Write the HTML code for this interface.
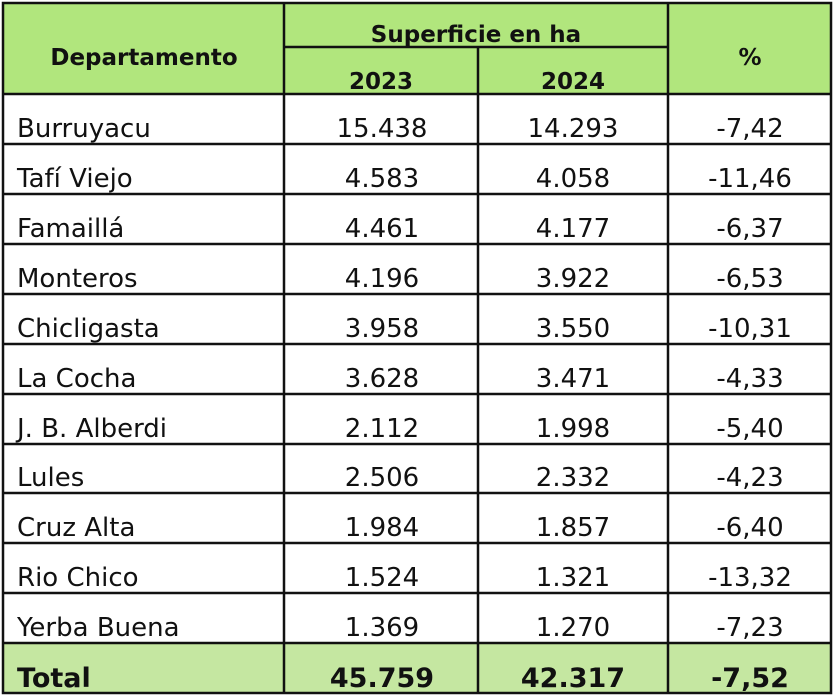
<!DOCTYPE html>
<html><head><meta charset="utf-8"><style>
html,body{margin:0;padding:0;background:#fff;width:835px;height:698px;overflow:hidden}
svg text{font-family:"DejaVu Sans","Liberation Sans",sans-serif}
</style></head><body>
<svg width="835" height="698" xmlns="http://www.w3.org/2000/svg">
<rect x="2" y="2" width="829" height="92" fill="#b1e67d"/>
<rect x="2" y="643" width="829" height="50" fill="#c5e7a1"/>
<g stroke="#111" stroke-width="2.5" fill="none">
<rect x="3" y="3" width="828" height="690"/>
<line x1="284" y1="3" x2="284" y2="693"/>
<line x1="478" y1="47" x2="478" y2="693"/>
<line x1="668" y1="3" x2="668" y2="693"/>
<line x1="284" y1="47" x2="668" y2="47"/>
<line x1="3" y1="94" x2="831" y2="94"/>
<line x1="3" y1="144" x2="831" y2="144"/>
<line x1="3" y1="194" x2="831" y2="194"/>
<line x1="3" y1="244" x2="831" y2="244"/>
<line x1="3" y1="294" x2="831" y2="294"/>
<line x1="3" y1="344" x2="831" y2="344"/>
<line x1="3" y1="394" x2="831" y2="394"/>
<line x1="3" y1="444" x2="831" y2="444"/>
<line x1="3" y1="493" x2="831" y2="493"/>
<line x1="3" y1="543" x2="831" y2="543"/>
<line x1="3" y1="593" x2="831" y2="593"/>
<line x1="3" y1="643" x2="831" y2="643"/>
</g>
<g font-weight="bold" font-size="23" fill="#111" text-anchor="middle">
<text x="144" y="65">Departamento</text>
<text x="476" y="42">Superficie en ha</text>
<text x="381" y="89">2023</text>
<text x="573" y="89">2024</text>
<text x="750" y="65">%</text>
</g>
<g font-size="26" fill="#111">
<g>
<text x="17" y="137">Burruyacu</text>
<text x="17" y="187">Tafí Viejo</text>
<text x="17" y="237">Famaillá</text>
<text x="17" y="287">Monteros</text>
<text x="17" y="337">Chicligasta</text>
<text x="17" y="387">La Cocha</text>
<text x="17" y="437">J. B. Alberdi</text>
<text x="17" y="486">Lules</text>
<text x="17" y="536">Cruz Alta</text>
<text x="17" y="586">Rio Chico</text>
<text x="17" y="636">Yerba Buena</text>
</g>
<g text-anchor="middle">
<text x="382" y="137">15.438</text><text x="573" y="137">14.293</text><text x="750" y="137">-7,42</text>
<text x="382" y="187">4.583</text><text x="573" y="187">4.058</text><text x="750" y="187">-11,46</text>
<text x="382" y="237">4.461</text><text x="573" y="237">4.177</text><text x="750" y="237">-6,37</text>
<text x="382" y="287">4.196</text><text x="573" y="287">3.922</text><text x="750" y="287">-6,53</text>
<text x="382" y="337">3.958</text><text x="573" y="337">3.550</text><text x="750" y="337">-10,31</text>
<text x="382" y="387">3.628</text><text x="573" y="387">3.471</text><text x="750" y="387">-4,33</text>
<text x="382" y="437">2.112</text><text x="573" y="437">1.998</text><text x="750" y="437">-5,40</text>
<text x="382" y="486">2.506</text><text x="573" y="486">2.332</text><text x="750" y="486">-4,23</text>
<text x="382" y="536">1.984</text><text x="573" y="536">1.857</text><text x="750" y="536">-6,40</text>
<text x="382" y="586">1.524</text><text x="573" y="586">1.321</text><text x="750" y="586">-13,32</text>
<text x="382" y="636">1.369</text><text x="573" y="636">1.270</text><text x="750" y="636">-7,23</text>
</g>
<g font-weight="bold" font-size="27">
<text x="17" y="687">Total</text>
<text x="382" y="687" text-anchor="middle">45.759</text>
<text x="573" y="687" text-anchor="middle">42.317</text>
<text x="750" y="687" text-anchor="middle">-7,52</text>
</g>
</g>
</svg>
</body></html>
